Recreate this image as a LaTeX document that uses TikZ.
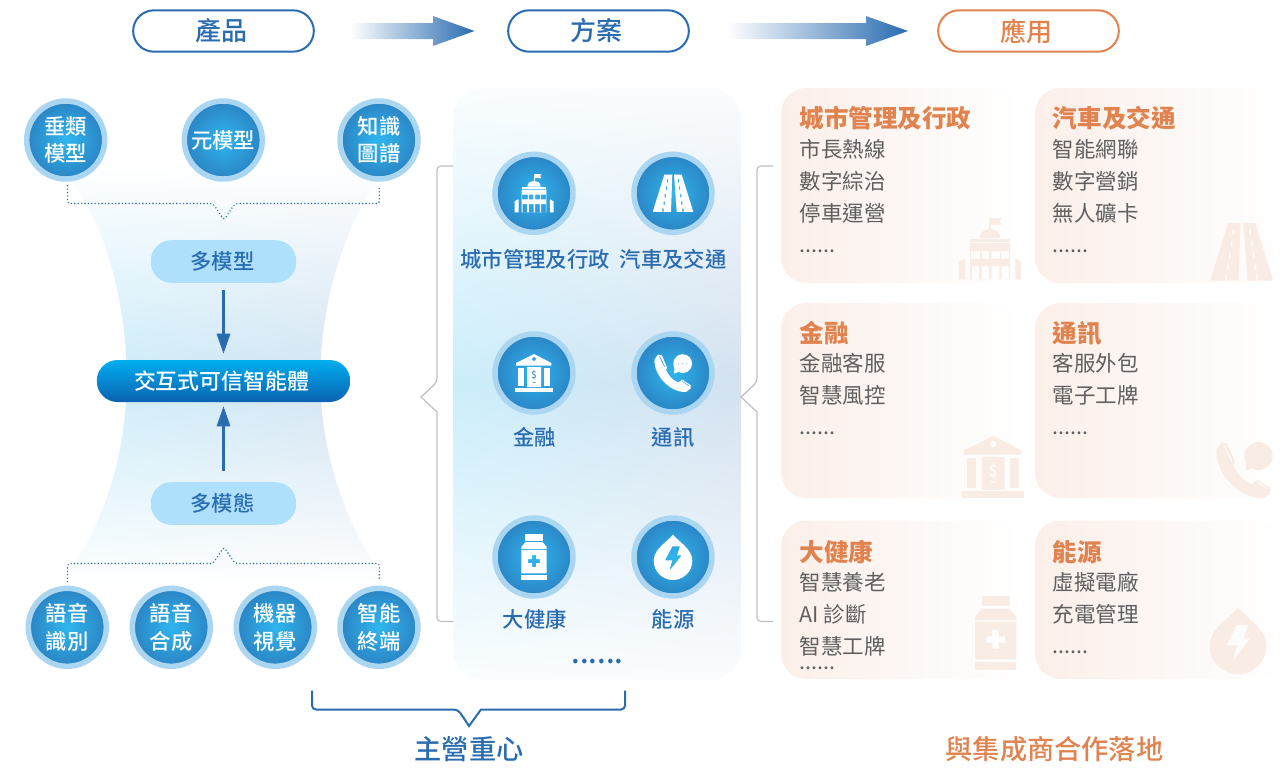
\documentclass[tikz,border=0pt]{standalone}
\usepackage{fontspec}
\usepackage{xcolor}
\usepackage{tikz}
\usetikzlibrary{arrows.meta}
\setmainfont{Noto Sans CJK TC}
\newfontfamily\medcjk{Noto Sans CJK TC Medium}

\definecolor{appblue}{RGB}{42,108,176}
\definecolor{apporange}{RGB}{224,131,79}
\definecolor{ringblue}{RGB}{170,214,242}
\definecolor{discin}{RGB}{47,182,238}
\definecolor{discout}{RGB}{43,132,196}
\definecolor{pillblue}{RGB}{174,224,251}
\definecolor{cardpeach}{RGB}{251,239,233}
\definecolor{markpeach}{RGB}{249,236,229}
\definecolor{bodygrey}{RGB}{95,95,95}
\definecolor{bracegrey}{RGB}{190,190,190}
\definecolor{coretop}{RGB}{0,174,239}
\definecolor{corebottom}{RGB}{10,98,176}

% white at top and bottom, pale blue band in the middle, greyer on the right
\pgfdeclarefunctionalshading{bandshade}{\pgfpointorigin}{\pgfpoint{100bp}{100bp}}{}{
  50 sub abs 25 div 1 exch sub
  dup 0 lt {pop 0} if
  exch 25 sub 50 div
  2 copy .035 mul .204 exch sub mul 1 exch sub
  3 1 roll
  2 copy .047 mul .067 add mul 1 exch sub
  3 1 roll
  .043 mul .016 add mul 1 exch sub
}
% same band, but its ends stay just off white
\pgfdeclarefunctionalshading{panelshade}{\pgfpointorigin}{\pgfpoint{100bp}{100bp}}{}{
  50 sub abs 25 div 1 exch sub
  dup 0 lt {pop 0} if
  .9 mul .1 add
  exch 25 sub 50 div
  2 copy .035 mul .204 exch sub mul 1 exch sub
  3 1 roll
  2 copy .047 mul .067 add mul 1 exch sub
  3 1 roll
  .043 mul .016 add mul 1 exch sub
}

\tikzset{
  every pic/.style={yscale=-1},
  headpill/.style={draw=#1,text=#1,fill=white,line width=1.5pt,rounded corners=15.5pt,minimum width=135.5pt,minimum height=31pt,inner sep=0pt,font=\medcjk\fontsize{19.5}{22}\selectfont},
  disc/.style={circle,draw=ringblue,line width=4.1pt,inner color=discin,outer color=discout,minimum size=58.5pt,inner sep=0pt,text=white,align=center,font=\medcjk\fontsize{16}{20.5}\selectfont},
  softpill/.style={fill=pillblue,text=appblue,rounded corners=15.5pt,minimum width=109pt,minimum height=32pt,inner sep=0pt,font=\medcjk\fontsize{16}{20}\selectfont},
  corepill/.style={top color=coretop,bottom color=corebottom,text=white,rounded corners=15.5pt,minimum width=190pt,minimum height=31.5pt,inner sep=0pt,font=\medcjk\fontsize{16.4}{20}\selectfont},
  midlabel/.style={text=appblue,inner sep=0pt,font=\medcjk\fontsize{16}{20}\selectfont},
  cardbox/.style={left color=cardpeach,right color=white,rounded corners=19pt},
  cardtitle/.style={text=apporange,anchor=base west,inner sep=0pt,font=\fontsize{18.4}{22}\selectfont\bfseries},
  cardtext/.style={text=bodygrey,anchor=base west,inner sep=0pt,font=\fontsize{16.1}{20}\selectfont},
  bigcaption/.style={inner sep=0pt,font=\medcjk\fontsize{20.4}{24}\selectfont},
  flowline/.style={draw=appblue,line width=1.6pt,-{Triangle[length=15pt,width=10pt]}},
  dotlink/.style={draw=appblue,line width=1.2pt,line cap=round,dash pattern=on 0pt off 2.55pt,rounded corners=2pt,shorten <=3pt,shorten >=3pt},
  greybrace/.style={draw=bracegrey,line width=0.9pt,rounded corners=3pt},
  bluebrace/.style={draw=appblue,line width=1.5pt,rounded corners=3pt},
  flowarrow/.style={left color=white,right color=appblue},
  pics/cityicon/.style={code={
    \fill (-0.4,-19.5) rectangle (0.4,-12.4);
    \fill (0.4,-19.3) -- (7.6,-19.3) -- (6,-17.3) -- (7.6,-15.2) -- (0.4,-15.2) -- cycle;
    \fill (-6.6,-6.8) .. controls (-6.6,-11) and (-3,-12.4) .. (0,-12.4) .. controls (3,-12.4) and (6.6,-11) .. (6.6,-6.8) -- cycle;
    \fill (-12.4,-6.2) rectangle (12.4,-4.1);
    \fill[even odd rule] (-12.4,-3.7) rectangle (12.4,19)
      (-11.8,1.4) rectangle (-6.2,6) (-5.2,1.4) rectangle (-0.6,6) (1,1.4) rectangle (6.2,6) (6.8,1.4) rectangle (11.8,6)
      (-11.4,10.7) rectangle (-6.8,19) (-5.2,10.7) rectangle (-0.5,19) (1,10.7) rectangle (5.8,19) (7.2,10.7) rectangle (11.8,19);
    \fill (-19.4,8) -- (-15.5,6) -- (-15.5,19) -- (-19.4,19) -- cycle;
    \fill (19.5,8) -- (15.9,6) -- (15.9,19) -- (19.5,19) -- cycle;
  }},
  pics/roadicon/.style={code={
    \fill[even odd rule] (-8.7,-18.6) -- (-0.7,-18.6) -- (-2,18.6) -- (-20.3,18.6) -- cycle
      (-6.1,-14.5) rectangle (-4.9,-11) (-7.2,-7) rectangle (-6,-3.5) (-8.3,0.5) rectangle (-7.1,4) (-9.4,8) rectangle (-8.2,11.5) (-10.6,15) rectangle (-9.4,18.6);
    \fill[even odd rule] (8.7,-18.6) -- (1,-18.6) -- (3.7,18.6) -- (20.3,18.6) -- cycle
      (4.9,-14.5) rectangle (6.1,-11) (6,-7) rectangle (7.2,-3.5) (7.1,0.5) rectangle (8.3,4) (8.2,8) rectangle (9.4,11.5) (9.4,15) rectangle (10.6,18.6);
  }},
  pics/bankicon/.style 2 args={code={
    \fill[even odd rule] (-18,-10) -- (0,-19) -- (17.4,-10) -- (17.4,-7.4) -- (-18,-7.4) -- cycle (0,-14) circle (2);
    \fill (-16,-5.4) rectangle (-10.4,13);
    \fill (10.4,-5.4) rectangle (16,13);
    \fill[even odd rule] (-7,-6) rectangle (7,14) (-1.5,9) rectangle (1.5,10);
    \fill (-19,15) rectangle (19,19);
    \node[text=#1,inner sep=0pt,font=\medcjk\fontsize{#2}{#2}\selectfont] (dollar) at (0,2.5) {\$};
  }},
  pics/phoneicon/.style={code={
    \fill[even odd rule] (9.7,-9.4) circle (9.4) (5.5,-9.4) circle (0.7) (9.7,-9.4) circle (0.7) (13.9,-9.4) circle (0.7);
    \fill (1.5,-5) -- (1,0.5) -- (6.5,-1.5) -- cycle;
    \fill[even odd rule] (-18.5,-13.5) .. controls (-19.5,0) and (-5,19.5) .. (13,19) -- (17.5,15.5) -- (17.5,12) -- (9,6.5) -- (5.5,9.5) .. controls (0,8) and (-5,2) .. (-6.8,-3) -- (-6,-5.5) -- (-11,-17.5) -- (-15,-18.5) -- cycle
      (-13.8,-16.5) -- (-13,-17) -- (-8,-6.5) -- (-8.8,-6) -- cycle
      (9,8.5) -- (9.5,7.8) -- (16,12.5) -- (15.5,13.2) -- cycle;
  }},
  pics/bottleicon/.style={code={
    \fill (-8.7,-22.8) rectangle (9,-16.5);
    \fill (-8.5,-15) -- (8.5,-15) -- (12.7,-10) -- (12.7,-8) -- (-12.7,-8) -- (-12.7,-10) -- cycle;
    \fill[even odd rule] (-12.7,-7) rectangle (12.7,16.3) (-2,-1.8) -- (2,-1.8) -- (2,2) -- (5.8,2) -- (5.8,6) -- (2,6) -- (2,9.8) -- (-2,9.8) -- (-2,6) -- (-5.8,6) -- (-5.8,2) -- (-2,2) -- cycle;
    \fill (-12.7,17.8) rectangle (12.7,23);
  }},
  pics/dropicon/.style={code={
    \fill[even odd rule] (0,-22.3) .. controls (6,-15) and (19.3,-8) .. (19.3,3.7) .. controls (19.3,15) and (10,23) .. (0,23) .. controls (-10,23) and (-19.3,15) .. (-19.3,3.7) .. controls (-19.3,-8) and (-6,-15) .. (0,-22.3) -- cycle
      (-0.7,-10.7) -- (7,-10.7) -- (4,-1.7) -- (8.7,-1.7) -- (-3.7,14) -- (-0.7,3.3) -- (-8,3.3) -- cycle;
  }},
}

\begin{document}
\begin{tikzpicture}[x=0.75pt,y=0.75pt,yscale=-1]
\useasboundingbox (0,0) rectangle (1283,769);

%Shape: Funnel behind the left column
\path [shading=bandshade] (60,165) -- (72,182) .. controls (105,225) and (126,300) .. (127,378) .. controls (126,455) and (105,520) .. (70,570) -- (60,590) -- (390,590) -- (378,570) .. controls (345,520) and (321,455) .. (320,378) .. controls (321,300) and (345,225) .. (378,182) -- (390,165) -- cycle ;
%Shape: Middle panel
\path [shading=panelshade,rounded corners=23pt] (453,88) rectangle (741,680) ;

% Head Pills
\node [headpill=appblue] (prodpill) at (223.5,31) {\kern-3pt 產品};
\node [headpill=appblue] (planpill) at (598.5,31) {\kern-3pt 方案};
\node [headpill=apporange] (usepill) at (1028.5,31) {\kern-3pt 應用};
%Shape: Gradient Arrows
\path [flowarrow] (350,23) -- (433,23) -- (433,16) -- (474.5,31) -- (433,46) -- (433,39) -- (350,39) -- cycle ;
\path [flowarrow] (727,23) -- (866,23) -- (866,16) -- (908,31) -- (866,46) -- (866,39) -- (727,39) -- cycle ;

% Model Discs
\node [disc] (vertmodel) at (65.7,140) {垂類\\模型};
\node [disc] (metamodel) at (223.3,140) {元模型};
\node [disc] (knowgraph) at (379,140) {知識\\圖譜};
\node [disc] (speechrec) at (67.3,627.3) {語音\\識別};
\node [disc] (speechsyn) at (171.3,627.3) {語音\\合成};
\node [disc] (vision) at (275.3,627.3) {機器\\視覺};
\node [disc] (terminal) at (379,627.3) {智能\\終端};

% Middle Pills
\node [softpill] (multimodel) at (223.5,261.5) {\kern-1.5pt 多模型};
\node [corepill] (coreagent) at (223.5,381) {\kern-3pt 交互式可信智能體};
\node [softpill] (multistate) at (223.5,503.5) {\kern-1.5pt 多模態};
\draw [flowline,shorten <=5pt,shorten >=4.5pt] (multimodel) -- (coreagent);
\draw [flowline,shorten <=8.5pt,shorten >=3pt] (multistate) -- (coreagent);

%Dotted Braces
\coordinate (toptip) at (224,220);
\coordinate (botttip) at (224,547);
\draw [dotlink] ([xshift=1.4pt]vertmodel.south) -- (67.5,203.5) -- (213,203.5) -- (toptip) -- (235,203.5) -- (379.5,203.5) -- (knowgraph.south);
\draw [dotlink] (speechrec.north) -- (67.5,563.5) -- (213,563.5) -- (botttip) -- (235,563.5) -- (379.5,563.5) -- (terminal.north);

%Grey Braces
\coordinate (lefttop) at (453,166);
\coordinate (leftbot) at (453,621.5);
\coordinate (righttop) at (773,166);
\coordinate (rightbot) at (773,621.5);
\draw [greybrace] (lefttop) -- (437,166) -- (437,382) [sharp corners] -- (421,397) -- (437,412) [rounded corners=3pt] -- (437,621.5) -- (leftbot);
\draw [greybrace] (righttop) -- (757,166) -- (757,382) [sharp corners] -- (741,397) -- (757,412) [rounded corners=3pt] -- (757,621.5) -- (rightbot);

% Panel Discs
\node [disc] (citydisc) at (534,193.3) {};
\node [disc] (roaddisc) at (673,193.3) {};
\node [disc] (bankdisc) at (534,373) {};
\node [disc] (calldisc) at (673,373) {};
\node [disc] (caredisc) at (534,557) {};
\node [disc] (powerdisc) at (673,557) {};
\pic [color=white] at (534,193.3) {cityicon};
\pic [color=white] at (673,193.3) {roadicon};
\pic [color=white] at (534,373) {bankicon={discout}{7}};
\pic [color=white] at (673,373) {phoneicon};
\pic [color=white] at (534,557) {bottleicon};
\pic [color=white] at (673,557) {dropicon};

% Panel Labels
\node [midlabel] (citytag) at (535.3,259) {城市管理及行政};
\node [midlabel] (roadtag) at (673.3,259) {汽車及交通};
\node [midlabel] (banktag) at (534.8,437) {金融};
\node [midlabel] (calltag) at (673.3,437) {通訊};
\node [midlabel] (caretag) at (534.8,619) {大健康};
\node [midlabel] (powertag) at (673.3,619) {能源};
\node [midlabel,font=\medcjk\fontsize{21.7}{24}\selectfont] (moretag) at (597.5,662) {......};

%Shape: Cards
\path [cardbox] (781,88) rectangle (1020,283) ;
\path [cardbox] (1035,88) rectangle (1283,283) ;
\path [cardbox] (781,303) rectangle (1020,498) ;
\path [cardbox] (1035,303) rectangle (1283,498) ;
\path [cardbox] (781,520.5) rectangle (1020,679) ;
\path [cardbox] (1035,520.5) rectangle (1283,679) ;
\pic [color=markpeach,scale=1.6] at (990,249) {cityicon};
\pic [color=markpeach,scale=1.55] at (1241.7,251.7) {roadicon};
\pic [color=markpeach,scale=1.63] at (993.3,466.7) {bankicon={white}{11.5}};
\pic [color=markpeach,scale=1.49] at (1244,470) {phoneicon};
\pic [color=markpeach,scale=1.62] at (995.7,633) {bottleicon};
\pic [color=markpeach,scale=1.47] at (1238,640.5) {dropicon};

% Card Text
\node [cardtitle] (citytitle) at (799.5,127) {城市管理及行政};
\node [cardtext] (cityone) at (799.5,157) {市長熱線};
\node [cardtext] (citytwo) at (799.5,189) {數字綜治};
\node [cardtext] (citythree) at (799.5,221) {停車運營};
\node [cardtext] (citymore) at (799.5,252) {......};
\node [cardtitle] (roadtitle) at (1052.7,127) {汽車及交通};
\node [cardtext] (roadone) at (1052.7,157) {智能網聯};
\node [cardtext] (roadtwo) at (1052.7,189) {數字營銷};
\node [cardtext] (roadthree) at (1052.7,221) {無人礦卡};
\node [cardtext] (roadmore) at (1052.7,252) {......};
\node [cardtitle] (banktitle) at (799.5,342.5) {金融};
\node [cardtext] (bankone) at (799.5,371) {金融客服};
\node [cardtext] (banktwo) at (799.5,403) {智慧風控};
\node [cardtext] (bankmore) at (799.5,434) {......};
\node [cardtitle] (calltitle) at (1052.7,342.5) {通訊};
\node [cardtext] (callone) at (1052.7,371) {客服外包};
\node [cardtext] (calltwo) at (1052.7,403) {電子工牌};
\node [cardtext] (callmore) at (1052.7,434) {......};
\node [cardtitle] (caretitle) at (799.5,561.5) {大健康};
\node [cardtext] (careone) at (799.5,590) {智慧養老};
\node [cardtext] (caretwo) at (799.5,622) {AI 診斷};
\node [cardtext] (carethree) at (799.5,654) {智慧工牌};
\node [cardtext] (caremore) at (799.5,669.5) {......};
\node [cardtitle] (powertitle) at (1052.7,561.5) {能源};
\node [cardtext] (powerone) at (1052.7,590) {虛擬電廠};
\node [cardtext] (powertwo) at (1052.7,622) {充電管理};
\node [cardtext] (powermore) at (1052.7,653.5) {......};

%Blue Brace
\coordinate (braceleft) at (312,690.5);
\coordinate (braceright) at (625,690.5);
\draw [bluebrace] (braceleft) -- (312,709.5) -- (458,709.5) [sharp corners] -- (469,726) -- (481,709.5) [rounded corners=3pt] -- (625,709.5) -- (braceright);

% Captions
\node [bigcaption,text=appblue] (ownfocus) at (469,749) {主營重心};
\node [bigcaption,text=apporange] (partnerland) at (1054.5,749) {與集成商合作落地};

\end{tikzpicture}
\end{document}
